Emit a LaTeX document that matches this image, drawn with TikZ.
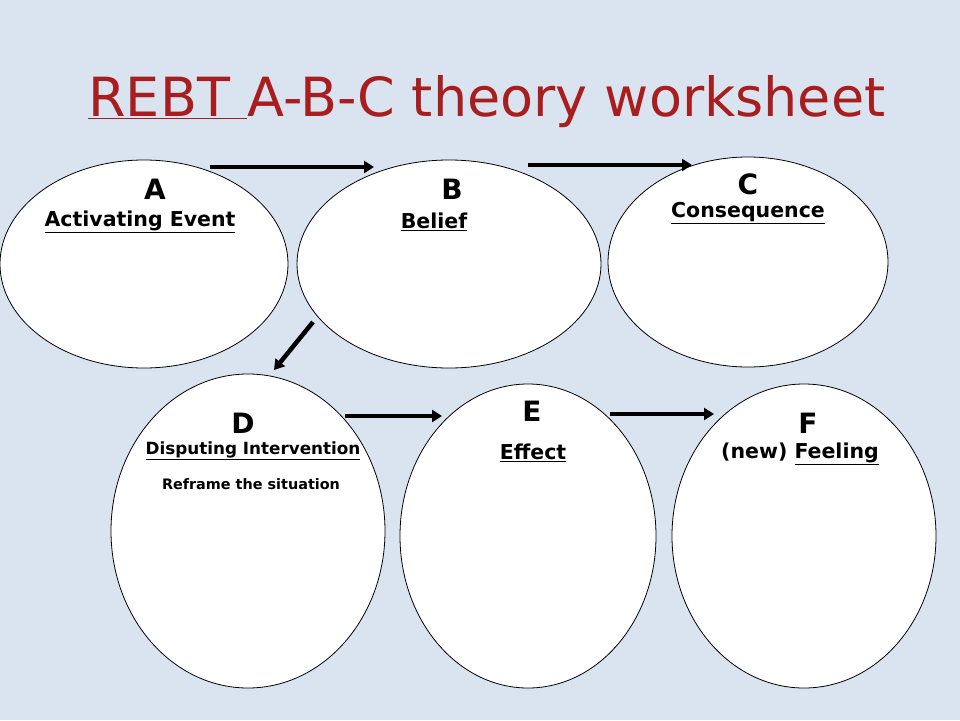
\documentclass[tikz,border=0pt]{standalone}
\usepackage{fontspec}
\setmainfont{DejaVu Sans}
\usetikzlibrary{shapes.geometric,arrows.meta}
\definecolor{bgc}{RGB}{218,228,240}
\definecolor{titlec}{RGB}{168,30,30}
\tikzset{
  oval/.style={ellipse,draw=black,line width=0.8pt,fill=white,inner sep=0pt},
  flow/.style={-{Triangle[length=10pt,width=12pt]},line width=4.5pt},
  letter/.style={font=\fontsize{28}{30}\selectfont\bfseries},
  lbl/.style={font=\fontsize{20.5}{22}\selectfont\bfseries}
}
\begin{document}
\begin{tikzpicture}[x=1pt,y=-1pt]
\fill[bgc] (0,0) rectangle (960,720);
\useasboundingbox (0,0) rectangle (960,720);
\node[font=\fontsize{54}{58}\selectfont,text=titlec] (title) at (487,102) {\underline{REBT }A-B-C theory worksheet};
\node[oval,minimum width=288pt,minimum height=208pt] (A) at (144,264) {};
\node[oval,minimum width=304pt,minimum height=208pt] (B) at (449,264) {};
\node[oval,minimum width=280pt,minimum height=210pt] (C) at (748,262) {};
\node[oval,minimum width=274pt,minimum height=314pt] (D) at (248,531) {};
\node[oval,minimum width=256pt,minimum height=304pt] (E) at (528,536) {};
\node[oval,minimum width=264pt,minimum height=304pt] (F) at (804,536) {};
\node[letter] (la) at (155,189) {A};
\node[lbl] (ta) at (140,222) {\underline{Activating Event}};
\node[letter] (lb) at (452,189) {B};
\node[lbl] (tb) at (434,222) {\underline{Belief}};
\node[letter] (lc) at (748,184) {C};
\node[lbl] (tc) at (748,213) {\underline{Consequence}};
\node[letter] (ld) at (243,423) {D};
\node[font=\fontsize{16.8}{18}\selectfont\bfseries] (td) at (253,451) {\underline{Disputing Intervention}};
\node[font=\fontsize{14.4}{16}\selectfont\bfseries] (rd) at (251,484) {Reframe the situation};
\node[letter] (le) at (532,411) {E};
\node[lbl] (te) at (533,453) {\underline{Effect}};
\node[letter] (lf) at (808,423) {F};
\node[lbl] (tf) at (800,454) {(new) \underline{Feeling}};
\coordinate (a1) at (210,167); \coordinate (a2) at (374,167);
\coordinate (b1) at (528,165); \coordinate (b2) at (692,165);
\coordinate (c1) at (313,322); \coordinate (c2) at (274,370);
\coordinate (d1) at (345,416); \coordinate (d2) at (442,416);
\coordinate (e1) at (610,414); \coordinate (e2) at (714,414);
\draw[flow] (a1) -- (a2);
\draw[flow] (b1) -- (b2);
\draw[flow] (c1) -- (c2);
\draw[flow] (d1) -- (d2);
\draw[flow] (e1) -- (e2);
\end{tikzpicture}
\end{document}
